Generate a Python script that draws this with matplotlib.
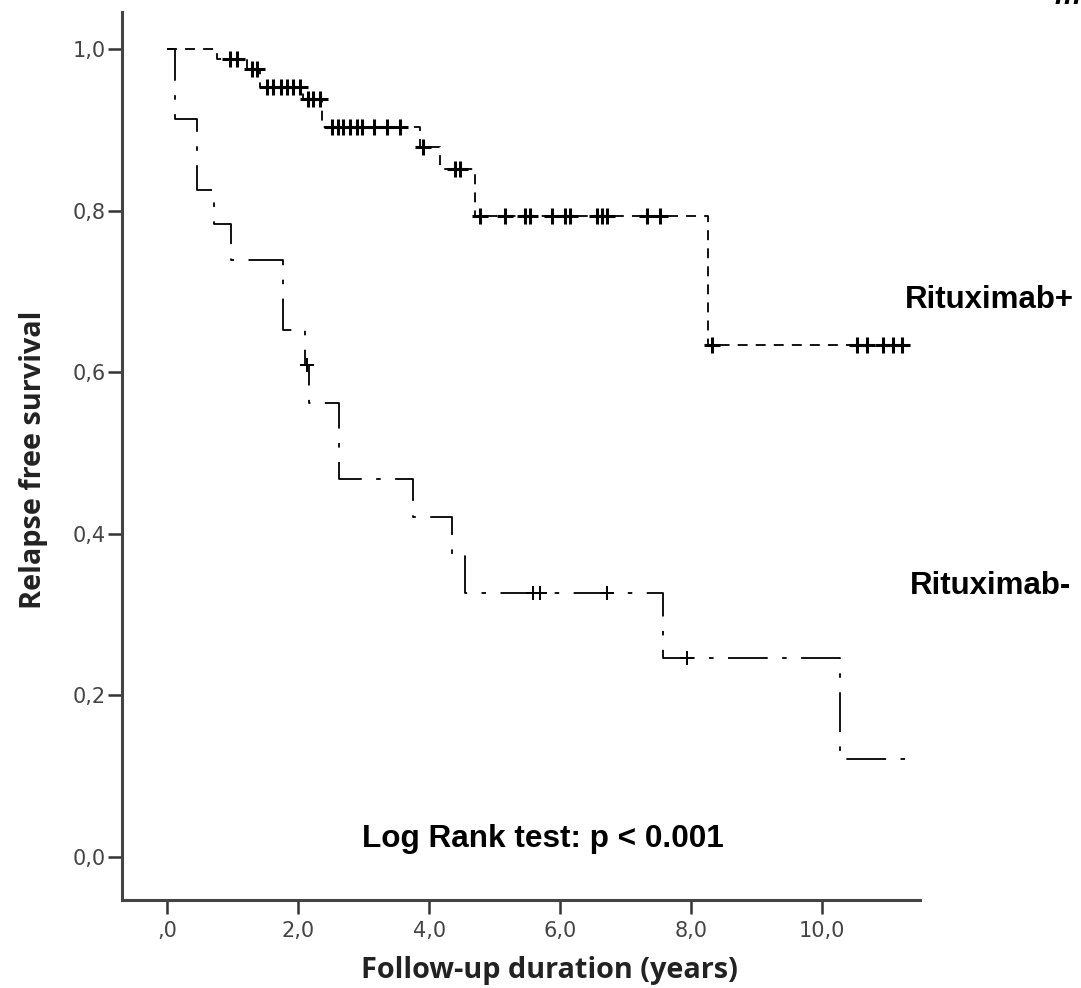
import numpy as np
import matplotlib
matplotlib.use("Agg")
import matplotlib.pyplot as plt

# ── Kaplan-Meier data ─────────────────────────────────────────────────────
# Rituximab+ (short dashed)
pos_times = [0.0, 0.76, 1.22, 1.42, 2.08, 2.37, 3.86, 4.17, 4.70, 8.26]
pos_surv = [1.000, 0.988, 0.975, 0.953, 0.938, 0.904, 0.879, 0.851, 0.793, 0.634]
pos_end = 11.37
pos_censor = [0.96, 1.07, 1.30, 1.37, 1.53, 1.62, 1.73, 1.83, 1.92, 2.03,
              2.15, 2.23, 2.34, 2.52, 2.61, 2.69, 2.79, 2.90, 2.98, 3.15,
              3.36, 3.56, 3.90, 4.40, 4.47, 4.77, 5.16, 5.47, 5.54, 5.88,
              6.08, 6.15, 6.56, 6.64, 6.72, 7.33, 7.53, 8.32, 10.53, 10.69,
              10.93, 11.08, 11.22]

# Rituximab- (dash-dot)
neg_times = [0.0, 0.12, 0.46, 0.72, 0.98, 1.77, 2.10, 2.17, 2.63, 3.76,
             4.35, 4.55, 7.57, 10.27]
neg_surv = [1.000, 0.913, 0.826, 0.783, 0.739, 0.652, 0.609, 0.562, 0.468,
            0.421, 0.375, 0.327, 0.246, 0.122]
neg_end = 11.42
neg_censor = [2.14, 5.59, 5.69, 6.72, 7.94]

x_ticks = [0, 2, 4, 6, 8, 10]
x_labels = [",0", "2,0", "4,0", "6,0", "8,0", "10,0"]
y_ticks = [0.0, 0.2, 0.4, 0.6, 0.8, 1.0]
y_labels = ["0,0", "0,2", "0,4", "0,6", "0,8", "1,0"]

LABEL_FONT = ["Open Sans", "DejaVu Sans"]
BOLD = ["Liberation Sans", "DejaVu Sans"]


def surv_at(times, surv, t):
    idx = np.searchsorted(times, t, side="right") - 1
    return surv[idx]


fig = plt.figure(figsize=(10.81, 9.88), dpi=100)
ax = fig.add_axes([0.1129, 0.0891, 0.7385, 0.899])

# ── curves ────────────────────────────────────────────────────────────────
ax.step(pos_times + [pos_end], pos_surv + [pos_surv[-1]], where="post",
        color="black", lw=1.3, dashes=(5.5, 4.5))
ax.step(neg_times + [neg_end], neg_surv + [neg_surv[-1]], where="post",
        color="black", lw=1.3, dashes=(22, 8, 2.5, 8))

pos_cy = [surv_at(pos_times, pos_surv, t) for t in pos_censor]
neg_cy = [surv_at(neg_times, neg_surv, t) for t in neg_censor]
ax.plot(pos_censor, pos_cy, ls="none", marker="+", ms=11, mew=2.2,
        color="black")
ax.plot(neg_censor, neg_cy, ls="none", marker="+", ms=10.5, mew=1.4,
        color="black")

# ── axes styling ──────────────────────────────────────────────────────────
ax.set_xlim(-0.69, 11.5)
ax.set_ylim(-0.053, 1.046)
for side in ("top", "right"):
    ax.spines[side].set_visible(False)
for side in ("left", "bottom"):
    ax.spines[side].set_linewidth(2.2)
    ax.spines[side].set_color("#444444")

ax.set_xticks(x_ticks)
ax.set_xticklabels(x_labels)
ax.set_yticks(y_ticks)
ax.set_yticklabels(y_labels)
ax.tick_params(axis="both", direction="out", length=10, width=1.8,
               color="#333333", labelcolor="#444444", labelsize=15)
ax.tick_params(axis="x", pad=5)
ax.tick_params(axis="y", pad=2)

ax.set_xlabel("Follow-up duration (years)", family=LABEL_FONT, fontsize=20.8,
              fontweight="bold", color="#222222")
ax.set_ylabel("Relapse free survival", family=LABEL_FONT, fontsize=20.8,
              fontweight="bold", color="#222222")
ax.xaxis.set_label_coords(0.535, -0.063)
ax.yaxis.set_label_coords(-0.093, 0.495)

# ── annotations ───────────────────────────────────────────────────────────
ax.text(11.27, 0.689, "Rituximab+", family=BOLD, fontsize=22.5,
        fontweight="bold", ha="left", va="center", clip_on=False)
ax.text(11.34, 0.336, "Rituximab-", family=BOLD, fontsize=22.5,
        fontweight="bold", ha="left", va="center", clip_on=False)
ax.text(5.73, 0.022, "Log Rank test: p < 0.001", family=BOLD, fontsize=22.7,
        fontweight="bold", ha="center", va="center")

# partly cut-off letter at the top-right corner, as in the source image
fig.text(0.999, 1.004, "m", family=BOLD, fontsize=21, fontweight="bold",
         fontstyle="italic", ha="right", va="center")

fig.savefig("out.png", dpi=100)
